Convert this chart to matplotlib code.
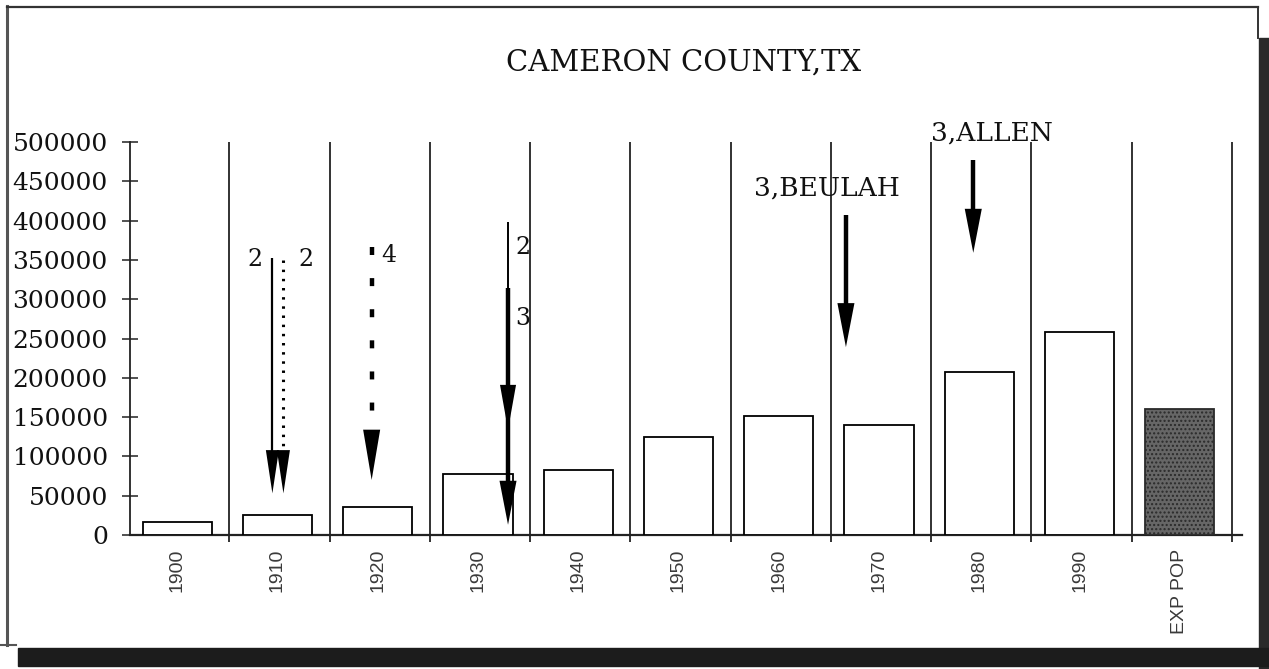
import matplotlib
matplotlib.use("Agg")
import matplotlib.pyplot as plt
from matplotlib.patches import Rectangle
from matplotlib.lines import Line2D

# ---------------- data ----------------
categories = ["1900", "1910", "1920", "1930", "1940", "1950",
              "1960", "1970", "1980", "1990", "EXP POP"]
population = [16000, 26000, 36000, 77000, 83000, 125000,
              151000, 140000, 208000, 258000, 160000]
yticks = [0, 50000, 100000, 150000, 200000, 250000,
          300000, 350000, 400000, 450000, 500000]
title = "CAMERON COUNTY,TX"

# arrows: (x slot position, start value, tip value, style)
arrow_x = [0.95, 1.06, 1.94, 3.30, 3.30, 6.67, 7.94]
arrow_start = [352000, 350000, 367000, 398000, 314000, 407000, 477000]
arrow_tip = [53000, 53000, 70000, 134000, 13000, 239000, 359000]
arrow_style = ["solid", "dotted", "dashed", "thin", "thick", "thick", "thick"]

# labels: (text, x slot, value)
label_text = ["2", "2", "4", "2", "3", "3,BEULAH", "3,ALLEN"]
label_x = [0.78, 1.29, 2.11, 3.45, 3.45, 6.48, 8.13]
label_y = [350000, 350000, 356000, 366000, 276000, 441000, 511000]

# ---------------- figure ----------------
W, H = 1269, 669
fig = plt.figure(figsize=(W / 100, H / 100), dpi=100)
fig.patch.set_facecolor("white")
plt.rcParams["hatch.color"] = "#b5b5b5"
plt.rcParams["hatch.linewidth"] = 1.0

ax = fig.add_axes([130 / W, 1 - 535 / H, 1112 / W, 393 / H])
ax.set_facecolor("none")
ax.set_xlim(-0.47, 10.62)
ax.set_ylim(0, 500000)

serif = "DejaVu Serif"
ink = "#111111"

x = list(range(len(categories)))
faces = ["white"] * (len(categories) - 1) + ["#666666"]
bars = ax.bar(x, population, width=0.69, color=faces,
              edgecolor="black", linewidth=1.3, zorder=3)
bars[-1].set_hatch("....")
bars[-1].set_edgecolor("#2a2a2a")

# separators
for i in x:
    ax.vlines(i + 0.52, -9000, 500000, color="#222222", linewidth=1.3,
              clip_on=False, zorder=2)

# axes styling
for s in ["top", "right"]:
    ax.spines[s].set_visible(False)
ax.spines["left"].set_linewidth(1.3)
ax.spines["bottom"].set_linewidth(1.6)
ax.spines["left"].set_color("#222222")
ax.spines["bottom"].set_color("#222222")

ax.set_yticks(yticks)
ax.set_yticklabels([str(v) for v in yticks], fontfamily=serif,
                   fontsize=18, color=ink)
ax.tick_params(axis="y", direction="inout", length=12, width=1.1,
               pad=10, color="#222222")

ax.set_xticks(x)
ax.set_xticklabels(categories, rotation=90, fontfamily="Liberation Sans",
                   fontsize=14, color="#3a3a3a", va="top")
ax.tick_params(axis="x", length=0, pad=10)

# arrows
for xa, ys, yt, st in zip(arrow_x, arrow_start, arrow_tip, arrow_style):
    if st == "solid":
        lw, ls, hw, hl = 1.6, "-", 0.13, 55000
    elif st == "dotted":
        lw, ls, hw, hl = 2.2, (0, (0.8, 2.2)), 0.13, 55000
    elif st == "dashed":
        lw, ls, hw, hl = 3.2, (0, (1.8, 5.2)), 0.17, 64000
    elif st == "thin":
        lw, ls, hw, hl = 1.4, "-", 0.16, 57000
    else:
        lw, ls, hw, hl = 3.2, "-", 0.17, 56000
    ax.plot([xa, xa], [ys, yt + hl * 0.8], color="black", linewidth=lw,
            linestyle=ls, solid_capstyle="butt", clip_on=False, zorder=5)
    ax.arrow(xa, yt + hl, 0, -hl, width=0.0, head_width=hw, head_length=hl,
             length_includes_head=True, color="black", linewidth=0,
             clip_on=False, zorder=6)

for t, lx, ly in zip(label_text, label_x, label_y):
    ax.text(lx, ly, t, fontfamily=serif, fontsize=17 if len(t) == 1 else 19,
            ha="center", va="center", color=ink, clip_on=False,
            zorder=7)

fig.text(684 / W, 1 - 63 / H, title, fontfamily=serif, fontsize=21,
         ha="center", va="center", color=ink)

# scan frame
fig.add_artist(Line2D([7 / W, 7 / W], [1 - 645 / H, 1 - 6 / H],
                      transform=fig.transFigure, color="#555555", linewidth=2.2))
fig.add_artist(Line2D([7 / W, 1258 / W], [1 - 7 / H, 1 - 7 / H],
                      transform=fig.transFigure, color="#333333", linewidth=1.6))
fig.add_artist(Line2D([1258 / W, 1258 / W], [1 - 7 / H, 1 - 38 / H],
                      transform=fig.transFigure, color="#333333", linewidth=1.4))
fig.add_artist(Rectangle((1259 / W, 0), 10 / W, 1 - 38 / H,
                         transform=fig.transFigure, color="#2a2a2a", zorder=0))
fig.add_artist(Line2D([0, 16 / W], [1 - 645 / H, 1 - 645 / H],
                      transform=fig.transFigure, color="#555555", linewidth=1.5))
fig.add_artist(Rectangle((18 / W, 1 - 666 / H), 1251 / W, 18 / H,
                         transform=fig.transFigure, color="#1c1c1c", zorder=0))

fig.savefig("out.png", dpi=100, facecolor=fig.get_facecolor())
